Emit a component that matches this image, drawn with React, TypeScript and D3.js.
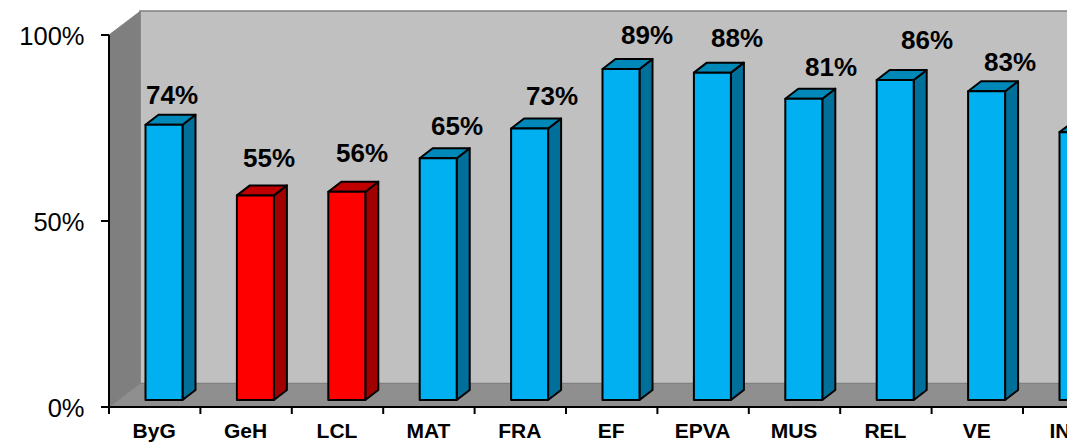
import React from "react";
import * as d3 from "d3";

const categories = ["ByG", "GeH", "LCL", "MAT", "FRA", "EF", "EPVA", "MUS", "REL", "VE", "ING"];
const values = [74, 55, 56, 65, 73, 89, 88, 81, 86, 83, 72];
const highlighted = ["GeH", "LCL"];
const yTicks = [0, 50, 100];

const W = 1067, H = 444;
const axisX = 109, axisY = 407, topY = 35;
const DX = 31, DY = 23.5;
const barDX = 13, barDY = 10;
const barW = 37;
const step = 91.4;
const font = "'Liberation Sans', Arial, sans-serif";
// hand-placed data labels in the source chart: centre x, distance above the bar top
const labelX = [172, 269, 362, 457, 552, 647, 737, 831, 927, 1010, 1102];
const labelLift = [21, 28, 30, 23, 23, 25, 26, 23, 31, 20, 24];

const xBand = d3.scaleBand<string>().domain(categories).range([axisX, axisX + step * categories.length]);
const yAxis = d3.scaleLinear().domain([0, 100]).range([axisY, topY]);
const yBar = d3.scaleLinear().domain([0, 100]).range([400, 28]);
const pts = (p: number[][]) => p.map(a => a.join(",")).join(" ");

export default function App() {
  return (
    <svg width={W} height={H} viewBox={`0 0 ${W} ${H}`} style={{ position: "absolute", left: 0, top: 0, background: "#fff" }}>
      <polygon points={pts([[axisX + DX, topY - DY - 0.5], [W + 5, topY - DY - 0.5], [W + 5, axisY - DY], [axisX + DX, axisY - DY]])} fill="#C0C0C0" stroke="#808080" strokeWidth={1.5} />
      <polygon points={pts([[axisX, topY], [axisX + DX, topY - DY], [axisX + DX, axisY - DY], [axisX, axisY]])} fill="#7F7F7F" stroke="#808080" />
      <polygon points={pts([[axisX, axisY], [axisX + DX, axisY - DY], [W + 5, axisY - DY], [W + 5, axisY]])} fill="#8F8F8F" stroke="#808080" />

      {categories.map((c, i) => {
        const x0 = (xBand(c) as number) + 36.5;
        const x1 = x0 + barW;
        const y0 = yBar(0), yT = yBar(values[i]);
        const red = highlighted.includes(c);
        return (
          <g key={c} stroke="#000" strokeWidth={2} strokeLinejoin="round">
            <polygon points={pts([[x1, yT], [x1 + barDX, yT - barDY], [x1 + barDX, y0 - barDY], [x1, y0]])} fill={red ? "#A00000" : "#006F9A"} />
            <polygon points={pts([[x0, yT], [x0 + barDX, yT - barDY], [x1 + barDX, yT - barDY], [x1, yT]])} fill={red ? "#C00000" : "#0088B8"} />
            <rect x={x0} y={yT} width={barW} height={y0 - yT} fill={red ? "#FF0000" : "#00B0F0"} />
          </g>
        );
      })}
      {categories.map((c, i) => (
        <text key={c} x={labelX[i]} y={yBar(values[i]) - labelLift[i]} textAnchor="middle" fontFamily={font} fontWeight="bold" fontSize={26} fill="#000">{values[i]}%</text>
      ))}

      <line x1={axisX} x2={axisX} y1={topY} y2={axisY} stroke="#000" strokeWidth={2} />
      <line x1={axisX} x2={W + 5} y1={axisY} y2={axisY} stroke="#000" strokeWidth={2} />
      {yTicks.map(t => (
        <g key={t}>
          <line x1={axisX - 8} x2={axisX} y1={yAxis(t)} y2={yAxis(t)} stroke="#000" strokeWidth={2} />
          <text x={84.5} y={yAxis(t) + 9.5} textAnchor="end" fontFamily={font} fontSize={25.5} fill="#000">{t}%</text>
        </g>
      ))}
      {categories.map(c => (
        <g key={c}>
          <line x1={xBand(c) as number} x2={xBand(c) as number} y1={axisY} y2={axisY + 7} stroke="#000" strokeWidth={2} />
          <text x={(xBand(c) as number) + xBand.bandwidth() / 2 - 0.5} y={438} textAnchor="middle" fontFamily={font} fontWeight="bold" fontSize={21} fill="#000">{c}</text>
        </g>
      ))}
    </svg>
  );
}
